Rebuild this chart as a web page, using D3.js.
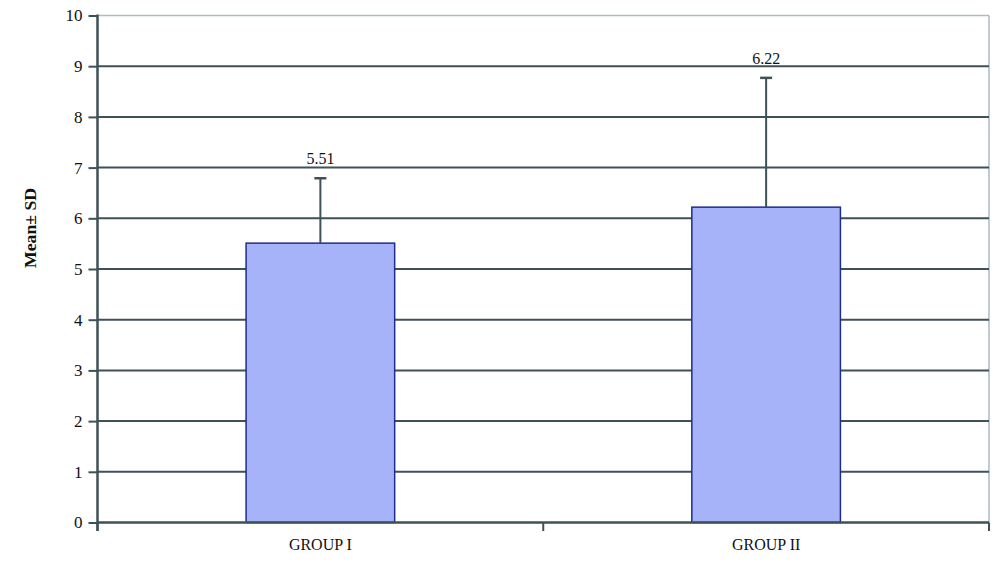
<!DOCTYPE html>
<html>
<head>
<meta charset="utf-8">
<script src="https://cdn.jsdelivr.net/npm/d3@7"></script>
<style>
  html, body { margin: 0; padding: 0; background: #fff; }
  svg { display: block; }
</style>
</head>
<body>
<svg id="chart" width="1000" height="583"></svg>
<script>
const categories = ["GROUP I", "GROUP II"];
const means = [5.51, 6.22];
const sds = [1.28, 2.55];
const meanLabels = ["5.51", "6.22"];
const yTicks = [0, 1, 2, 3, 4, 5, 6, 7, 8, 9, 10];
const yTitle = "Mean\u00B1 SD";

const svg = d3.select("#chart");
const pLeft = 97.5, pRight = 989, pTop = 15.5, pBottom = 522.5;
const font = "'Liberation Serif', 'DejaVu Serif', serif";
const gridColor = "#3e5157";

const x = d3.scaleBand().domain(categories).range([pLeft, pRight]).padding(0);
const y = d3.scaleLinear().domain([0, 10]).range([pBottom, pTop]);

// right border (light)
svg.append("line").attr("x1", pRight).attr("x2", pRight).attr("y1", pTop).attr("y2", pBottom)
  .attr("stroke", "#a9bcc5").attr("stroke-width", 1.5);

// gridlines
svg.append("g").selectAll("line").data(yTicks.filter(d => d > 0)).join("line")
  .attr("x1", pLeft).attr("x2", pRight)
  .attr("y1", d => y(d)).attr("y2", d => y(d))
  .attr("stroke", d => d === 10 ? "#a9bcc5" : gridColor)
  .attr("stroke-width", d => d === 10 ? 1.5 : 2);

// bars
const bw = x.bandwidth() / 3;
svg.append("g").selectAll("rect").data(categories).join("rect")
  .attr("x", d => x(d) + bw)
  .attr("width", bw)
  .attr("y", (d, i) => y(means[i]))
  .attr("height", (d, i) => y(0) - y(means[i]))
  .attr("fill", "#a6b3f8")
  .attr("stroke", "#1e2d8c")
  .attr("stroke-width", 1.5);

// error bars
const eg = svg.append("g");
categories.forEach((c, i) => {
  const cx = x(c) + x.bandwidth() / 2;
  eg.append("line").attr("x1", cx).attr("x2", cx)
    .attr("y1", y(means[i])).attr("y2", y(means[i] + sds[i]))
    .attr("stroke", gridColor).attr("stroke-width", 2);
  eg.append("line").attr("x1", cx - 6).attr("x2", cx + 6)
    .attr("y1", y(means[i] + sds[i])).attr("y2", y(means[i] + sds[i]))
    .attr("stroke", gridColor).attr("stroke-width", 2.5);
  eg.append("text").attr("x", cx).attr("y", y(means[i] + sds[i]) - 14)
    .attr("text-anchor", "middle")
    .attr("font-family", font).attr("font-size", 16).attr("fill", "#111")
    .text(meanLabels[i]);
});

// y axis
const yAxis = svg.append("g").attr("transform", `translate(${pLeft},0)`)
  .call(d3.axisLeft(y).tickValues(yTicks).tickSize(9).tickPadding(6).tickFormat(d3.format("d")));
yAxis.select(".domain").remove();
yAxis.selectAll(".tick line").attr("stroke", gridColor).attr("stroke-width", 2);
yAxis.selectAll(".tick text").attr("font-family", font).attr("font-size", 17).attr("fill", "#111");
svg.append("line").attr("x1", pLeft).attr("x2", pLeft).attr("y1", pTop - 1).attr("y2", pBottom + 8.5)
  .attr("stroke", gridColor).attr("stroke-width", 2.5);

// x axis
svg.append("line").attr("x1", pLeft).attr("x2", pRight).attr("y1", pBottom).attr("y2", pBottom)
  .attr("stroke", gridColor).attr("stroke-width", 2.5);
const boundaries = [pLeft, ...categories.slice(1).map(c => x(c)), pRight];
svg.append("g").selectAll("line").data(boundaries).join("line")
  .attr("x1", d => d).attr("x2", d => d)
  .attr("y1", pBottom).attr("y2", pBottom + 8.5)
  .attr("stroke", gridColor).attr("stroke-width", 2);
const xAxis = svg.append("g").attr("transform", `translate(0,${pBottom})`)
  .call(d3.axisBottom(x).tickSize(0).tickPadding(16));
xAxis.select(".domain").remove();
xAxis.selectAll(".tick text").attr("font-family", font).attr("font-size", 16).attr("fill", "#111");

// y title
svg.append("text")
  .attr("transform", `translate(36,228) rotate(-90)`)
  .attr("text-anchor", "middle")
  .attr("font-family", font).attr("font-size", 17).attr("font-weight", "bold").attr("fill", "#111")
  .attr("textLength", 80).attr("lengthAdjust", "spacingAndGlyphs")
  .text(yTitle);
</script>
</body>
</html>
